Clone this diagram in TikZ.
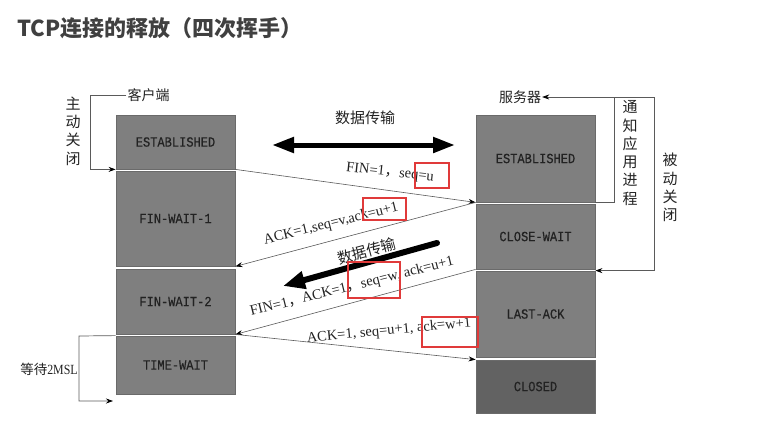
\documentclass[tikz,border=0pt]{standalone}
\usepackage{fontspec}
\setmainfont{Liberation Serif}
\newfontfamily\cjk{Noto Sans CJK SC}
\newfontfamily\monof[FakeStretch=0.86,FakeBold=0.4]{Liberation Mono}
\newfontfamily\narrowserif[FakeStretch=0.85]{Liberation Serif}
\usetikzlibrary{arrows.meta}
\definecolor{boxgray}{HTML}{7F7F7F}
\definecolor{boxdark}{HTML}{626262}
\definecolor{boxline}{HTML}{6A6A6A}
\definecolor{linegray}{HTML}{5A5A5A}
\definecolor{redmark}{HTML}{E03A3A}
\definecolor{titlec}{HTML}{404040}
\definecolor{txt}{HTML}{222222}
\begin{document}
\begin{tikzpicture}[x=1pt,y=-1pt,
  state/.style={draw=boxline, line width=0.8pt, fill=boxgray, minimum width=119pt,
    inner sep=0pt, font=\monof\fontsize{14}{16}\selectfont, text=txt},
  msg/.style={draw=linegray, line width=0.6pt, -{Stealth[length=7pt,width=5pt,color=black]}},
  msglabel/.style={font=\fontsize{14.5}{16}\selectfont, inner sep=0pt, text=txt},
  side/.style={draw=linegray, line width=0.7pt},
  sidetip/.style={-{Stealth[length=7pt,width=5pt,color=black]}},
  cjklabel/.style={font=\cjk\fontsize{14}{14}\selectfont, inner sep=1pt, text=txt},
  vlabel/.style={font=\cjk\fontsize{15}{18.3}\selectfont, align=center, inner sep=0pt, text=txt},
  redbox/.style={draw=redmark, line width=2.8pt, inner sep=0pt},
  bigline/.style={line width=5pt, draw=black}
]
\useasboundingbox (0,0) rectangle (766,445);

% title
\node[anchor=west, font=\cjk\bfseries\fontsize{22}{22}\selectfont, text=titlec, inner sep=0pt]
  (title) at (17,28) {TCP连接的释放（四次挥手）};

% client states
\node[state, minimum height=54pt] (c1) at (175.5,142) {ESTABLISHED};
\node[state, minimum height=95pt] (c2) at (175.5,218.5) {FIN-WAIT-1};
\node[state, minimum height=65pt] (c3) at (175.5,301.5) {FIN-WAIT-2};
\node[state, minimum height=58pt] (c4) at (175.5,365) {TIME-WAIT};

% server states
\node[state, minimum height=87pt] (s1) at (535.5,158.5) {ESTABLISHED};
\node[state, minimum height=65pt] (s2) at (535.5,236.5) {CLOSE-WAIT};
\node[state, minimum height=86pt] (s3) at (535.5,314) {LAST-ACK};
\node[state, minimum height=53pt, fill=boxdark] (s4) at (535.5,386.5) {CLOSED};

% side labels
\node[cjklabel] (kh) at (148.5,95) {客户端};
\node[cjklabel] (fw) at (520,97) {服务器};
\node[vlabel] (zd) at (73,131) {主\\动\\关\\闭};
\node[vlabel] (tz) at (630,153) {通\\知\\应\\用\\进\\程};
\node[vlabel] (bd) at (670,187.5) {被\\动\\关\\闭};
\node[font=\fontsize{14}{14}\selectfont, text=txt, inner sep=0pt] (ms) at (49,369) {{\cjk\fontsize{13.5}{14}\selectfont 等待}{\narrowserif 2MSL}};

% side lines
\draw[side, sidetip] (kh.west) -- (90,95) |- (c1.south west);
\coordinate (jn) at (614,97);
\draw[side, sidetip] (s1.south east) -| (jn) -- (fw.east);
\draw[side, sidetip] (jn) -- (654,97) |- (s3.north east);
\coordinate (tw) at (113,401);
\draw[side, sidetip] (c4.north west) -- (79,336) |- (tw);

% messages
\draw[msg] (c1.south east) -- (s1.south west);
\draw[msg] (s1.south west) -- (c2.south east);
\draw[msg] (s2.south west) -- (c3.south east);
\draw[msg] (c3.south east) -- (s4.north west);

\node[msglabel, rotate=-6] (m1) at (390,173) {FIN=1{\cjk ，}seq=u};
\node[msglabel, rotate=14] (m2) at (331,224) {ACK=1,seq=v,ack=u+1};
\node[msglabel, rotate=14] (m3) at (352,287) {FIN=1{\cjk ，}ACK=1{\cjk ，}seq=w, ack=u+1};
\node[msglabel, rotate=5.5] (m4) at (389,331) {ACK=1, seq=u+1, ack=w+1};

% data transfer arrows
\node[font=\cjk\fontsize{15}{15}\selectfont, text=txt] (dt1) at (365,118) {数据传输};
\coordinate (da1) at (272,145);
\coordinate (da2) at (455,145);
\draw[bigline, {Triangle[length=22pt,width=15pt]}-{Triangle[length=22pt,width=15pt]}] (da1) -- (da2);
\node[font=\cjk\fontsize{15}{15}\selectfont, text=txt, rotate=15] (dt2) at (367,251) {数据传输};
\coordinate (db1) at (437,243);
\coordinate (db2) at (283,286);
\draw[bigline, line width=6pt, line cap=round, -{Triangle[length=22pt,width=17pt]}] (db1) -- (db2);

% red highlight boxes
\node[redbox, minimum width=34pt, minimum height=25pt] (r1) at (432,175.5) {};
\node[redbox, minimum width=43pt, minimum height=22pt] (r2) at (384.5,209) {};
\node[redbox, minimum width=52pt, minimum height=36pt] (r3) at (374,280) {};
\node[redbox, minimum width=56pt, minimum height=30pt] (r4) at (450,332) {};
\end{tikzpicture}
\end{document}
